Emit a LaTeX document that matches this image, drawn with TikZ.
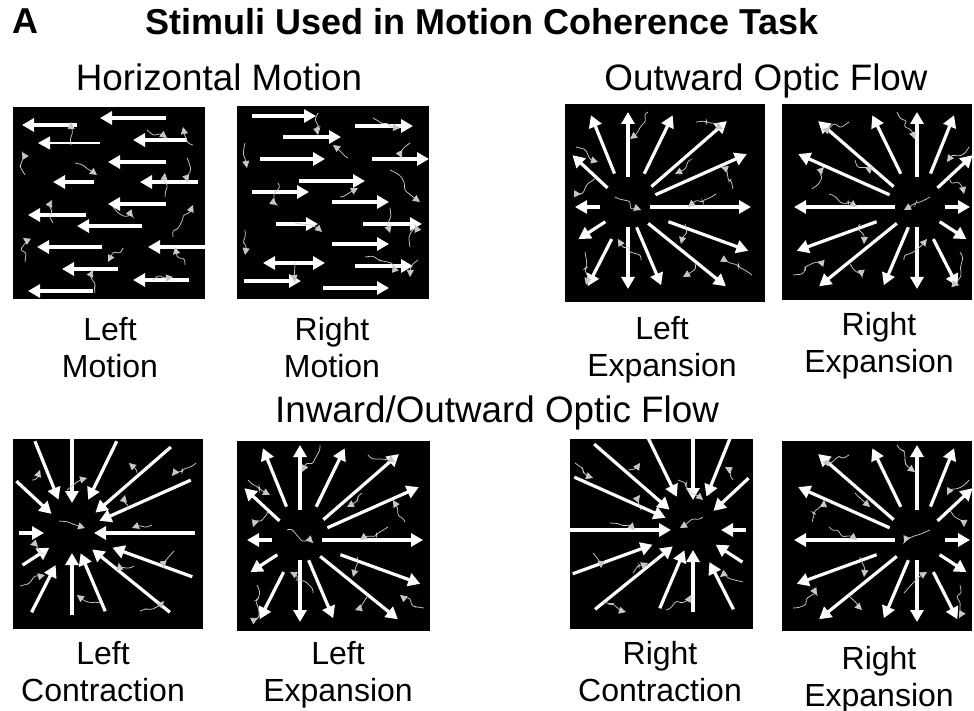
\documentclass[tikz,border=0pt]{standalone}
\usepackage{fontspec}
\setmainfont{Liberation Sans}
\usetikzlibrary{arrows.meta,decorations.pathmorphing}

% radial pattern: angle / inner r / outer r
\newcommand{\raylist}{90/30/95, 112/36/99, 137/28/76, 180/28/53, 213/27/59,
  243/36/89, 270/20/82, 293/22/85, 321/26/126, 340/43/128, 0/22/123,
  24/30/130, 41/31/131, 64/37/102}
% noise for expansion panels (relative to centre)
\newcommand{\expnoise}{20/-95/2/-68, -52/-60/-30/-45, 68/-85/95/-78,
  62/-47/47/-33, 105/-18/93/-40, 88/-13/60/0, -13/-10/13/3,
  -32/-30/-47/-13, 57/17/53/37, -43/45/-42/78, 13/53/-10/32,
  67/57/55/70, 124/68/100/55}

\begin{document}
\begin{tikzpicture}[x=1pt,y=-1pt,
  bar/.style={white,line width=3.2pt,-{Triangle[length=12pt,width=13pt]}},
  barin/.style={white,line width=3.2pt,{Triangle[length=12pt,width=13pt]}-},
  noise/.style={white!78!black,line width=0.75pt,decorate,
    decoration={random steps,segment length=6pt,amplitude=4pt},
    rounded corners=2.5pt,-{Triangle[length=7pt,width=7pt]}},
  head/.style={font=\fontsize{36}{40}\selectfont\bfseries,inner sep=0pt},
  sub/.style={font=\fontsize{36.8}{40}\selectfont,inner sep=0pt},
  lab/.style={font=\fontsize{32}{37}\selectfont,align=center,inner sep=0pt}]
\pgfmathsetseed{7}
\useasboundingbox (0,0) rectangle (974,711);

% titles
\node[head,anchor=base west] (tag) at (12,34) {A};
\node[head,anchor=base] (title) at (482,35) {Stimuli Used in Motion Coherence Task};
\node[sub,anchor=base] (horiz) at (219,91) {Horizontal Motion};
\node[sub,anchor=base] (outflow) at (766,91) {Outward Optic Flow};
\node[sub,anchor=base] (inout) at (497,422) {Inward/Outward Optic Flow};

% black panels
\fill[black] (13,107) rectangle (205,299);
\fill[black] (237,106) rectangle (429,299);
\fill[black] (565,104) rectangle (765,302);
\fill[black] (782,104) rectangle (972,300);
\fill[black] (13,439) rectangle (203,629);
\fill[black] (237,441) rectangle (430,631);
\fill[black] (570,439) rectangle (753,629);
\fill[black] (782,441) rectangle (972,631);

% left motion
\foreach \xa/\xb/\yy in {77/22/125, 166/100/118, 187/133/140, 166/108/162,
  94/53/182, 198/140/182, 166/108/204, 86/28/215, 142/77/226, 102/37/247,
  205/148/247, 118/62/269, 189/133/280, 93/28/291}
  \draw[bar] (\xa,\yy) -- (\xb,\yy);
\draw[bar,line width=1.2pt] (100,143) -- (38,143);
\foreach \xa/\ya/\xb/\yb in {71/145/71/122, 25/175/22/152, 75/163/97/175,
  147/130/167/138, 193/145/183/127, 187/158/188/182, 165/197/165/173,
  53/223/52/200, 113/207/133/217, 173/237/193/205, 25/262/23/238,
  123/248/108/262, 185/265/175/247, 95/293/93/270, 153/280/173/277}
  \draw[noise] (\xa,\ya) -- (\xb,\yb);

% right motion
\foreach \xa/\xb/\yy in {252/316/116, 355/413/126, 283/341/137, 260/325/159,
  372/429/159, 299/365/181, 252/309/192, 332/389/202, 276/318/224,
  363/422/224, 332/389/244, 355/413/266, 244/301/281, 323/389/288}
  \draw[bar] (\xa,\yy) -- (\xb,\yy);
\draw[bar,{Triangle[length=12pt,width=13pt]}-{Triangle[length=12pt,width=13pt]}]
  (263,263) -- (325,263);
\foreach \xa/\ya/\xb/\yb in {318/113/318/135, 245/143/247/168, 348/158/333/145,
  373/118/400/128, 410/143/402/158, 390/170/420/202, 278/183/277/205,
  340/197/358/188, 390/208/390/233, 410/247/415/225, 295/223/322/232,
  245/230/245/255, 295/262/295/282, 365/257/393/265, 418/260/410/277}
  \draw[noise] (\xa,\ya) -- (\xb,\yb);

% expansion panels (left centred, right centred)
\foreach \cx/\cy/\sx in {628/207/1, 917/207/-1, 300/540/1, 917/540/-1}{
  \begin{scope}[shift={(\cx,\cy)},xscale=\sx]
    \foreach \a/\ri/\ro in \raylist
      \draw[bar] (-\a:\ri) -- (-\a:\ro);
    \foreach \xa/\ya/\xb/\yb in \expnoise
      \draw[noise] (\xa,\ya) -- (\xb,\yb);
  \end{scope}
}

% left contraction
\begin{scope}[shift={(72,533)}]
  \foreach \a/\ri/\ro in \raylist
    \draw[barin] (-\a:\ri) -- (-\a:\ro);
  \foreach \xa/\ya/\xb/\yb in {-40/-53/-32/-63, -5/-43/15/-55, 65/-60/57/-70,
    124/-70/100/-57, 55/-23/53/-38, -13/-12/13/-5, 80/-8/60/-5, 102/18/92/35,
    62/33/47/30, -25/20/-42/12, -52/53/-27/42, 28/70/5/62, 68/78/92/68}
    \draw[noise] (\xa,\ya) -- (\xb,\yb);
\end{scope}

% right contraction
\begin{scope}[shift={(693,530)}]
  \begin{scope}[xscale=-1]
    \foreach \a/\ri/\ro in \raylist
      \draw[barin] (-\a:\ri) -- (-\a:\ro);
  \end{scope}
  \foreach \xa/\ya/\xb/\yb in {-118/-67/-100/-52, -65/-60/-53/-67, -15/-50/10/-30,
    40/-50/32/-63, -52/-20/-53/-35, -83/-7/-58/0, 10/-13/-13/-2,
    -100/23/-92/38, -60/43/-45/33, 50/52/27/47, -90/72/-67/82, -27/80/-2/65}
    \draw[noise] (\xa,\ya) -- (\xb,\yb);
\end{scope}

% panel captions (anchor = baseline of second line)
\node[lab,anchor=base] (lmot) at (110,377) {Left\\Motion};
\node[lab,anchor=base] (rmot) at (332,377) {Right\\Motion};
\node[lab,anchor=base] (lexp) at (662,376) {Left\\Expansion};
\node[lab,anchor=base] (rexp) at (879,372) {Right\\Expansion};
\node[lab,anchor=base] (lcon) at (103,701) {Left\\Contraction};
\node[lab,anchor=base] (lexpb) at (338,701) {Left\\Expansion};
\node[lab,anchor=base] (rcon) at (660,701) {Right\\Contraction};
\node[lab,anchor=base] (rexpb) at (879,706) {Right\\Expansion};
\end{tikzpicture}
\end{document}
